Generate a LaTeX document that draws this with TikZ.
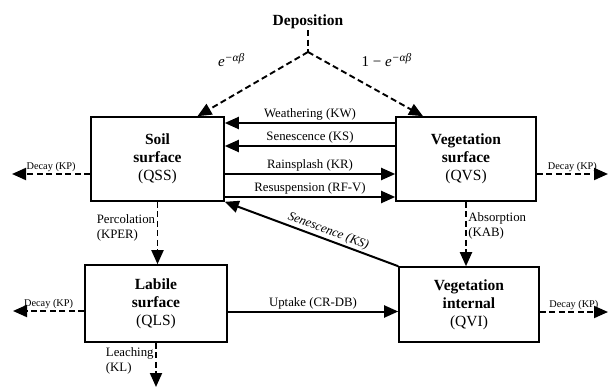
\documentclass[tikz,border=0pt]{standalone}
\usepackage{fontspec}
\setmainfont{Liberation Serif}
\usetikzlibrary{arrows.meta,calc}

\tikzset{
  pool/.style={draw, line width=1.6pt, align=center,
    font=\fontsize{15.5}{18}\selectfont},
  flow/.style={line width=2pt, -{Triangle[length=14pt,width=12pt]}},
  dflow/.style={flow, line width=1.9pt, dash pattern=on 6pt off 3.5pt},
  dline/.style={line width=1.9pt, dash pattern=on 6pt off 3.5pt},
  lbl/.style={font=\fontsize{12.8}{14.5}\selectfont, inner sep=1.5pt},
  decay/.style={font=\fontsize{10.3}{12}\selectfont, inner sep=1.5pt},
  frac/.style={font=\fontsize{15}{17}\selectfont, inner sep=1pt}
}
\newcommand{\expab}{\textit{e}\raisebox{0.75ex}{\fontsize{11.5}{13}\selectfont\textit{−αβ}}}

\begin{document}
\begin{tikzpicture}[x=1pt, y=-1pt]
  \useasboundingbox (0,0) rectangle (609,387);

  % pools
  \node [pool, minimum width=133pt, minimum height=84pt] (QSS) at (157.5,159)
    {\textbf{Soil}\\\textbf{surface}\\(QSS)};
  \node [pool, minimum width=140pt, minimum height=84pt] (QVS) at (466,159)
    {\textbf{Vegetation}\\\textbf{surface}\\(QVS)};
  \node [pool, minimum width=142pt, minimum height=77pt] (QLS) at (156,303.5)
    {\textbf{Labile}\\\textbf{surface}\\(QLS)};
  \node [pool, minimum width=140pt, minimum height=75pt] (QVI) at (469,304.5)
    {\textbf{Vegetation}\\\textbf{internal}\\(QVI)};

  % deposition
  \node [font=\fontsize{15.5}{17}\selectfont\bfseries, inner sep=1pt] (dep) at (308,22) {Deposition};
  \coordinate (split) at (308,52);
  \draw [dline] (dep) -- (split);
  \draw [dflow] (split) -- ([xshift=40pt]QSS.north)
    node [pos=0.45, above left=12pt, frac] {\expab};
  \draw [dflow] (split) -- ([xshift=-43pt]QVS.north)
    node [pos=0.45, anchor=south west, yshift=12pt, frac] {1 − \expab};

  % exchange between surfaces
  \draw [flow] ([yshift=36pt]QVS.west) -- ([yshift=36pt]QSS.east)
    node [midway, above, lbl] {Weathering (KW)};
  \draw [flow] ([yshift=13pt]QVS.west) -- ([yshift=13pt]QSS.east)
    node [midway, above, lbl] {Senescence (KS)};
  \draw [flow] ([yshift=-15pt]QSS.east) -- ([yshift=-15pt]QVS.west)
    node [midway, above, lbl] {Rainsplash (KR)};
  \draw [flow] ([yshift=-38pt]QSS.east) -- ([yshift=-38pt]QVS.west)
    node [midway, above, lbl] {Resuspension (RF-V)};
  \draw [flow] (QVI.north west) -- (QSS.south east)
    node [pos=0.42, sloped, above, lbl] {\textit{Senescence (KS)}};

  % vertical transfers
  \draw [dflow] (QSS.south) -- (QSS.south |- QLS.north)
    node [midway, left, lbl, align=left, yshift=5pt] {Percolation\\(KPER)};
  \draw [dflow] (QVS.south) -- (QVS.south |- QVI.north)
    node [midway, right, lbl, align=left, yshift=8pt] {Absorption\\(KAB)};
  \coordinate (leach) at (156,387);
  \draw [dflow] (QLS.south) -- (leach)
    node [midway, left, lbl, align=left, yshift=4pt] {Leaching\\(KL)};
  \draw [flow] ([yshift=-8pt]QLS.east) -- ([yshift=-8pt]QLS.east -| QVI.west)
    node [midway, above, lbl] {Uptake (CR-DB)};

  % decay
  \coordinate (kpSS) at (12,174);
  \coordinate (kpVS) at (608,174);
  \coordinate (kpLS) at (13,311);
  \coordinate (kpVI) at (608,312);
  \draw [dflow] (QSS.west |- kpSS) -- (kpSS) node [midway, above, decay] {Decay (KP)};
  \draw [dflow] (QVS.east |- kpVS) -- (kpVS) node [midway, above, decay] {Decay (KP)};
  \draw [dflow] (QLS.west |- kpLS) -- (kpLS) node [midway, above, decay] {Decay (KP)};
  \draw [dflow] (QVI.east |- kpVI) -- (kpVI) node [midway, above, decay] {Decay (KP)};
\end{tikzpicture}
\end{document}
